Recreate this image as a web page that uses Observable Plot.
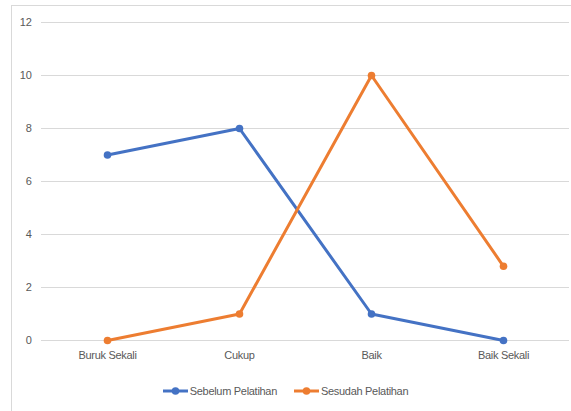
<!DOCTYPE html>
<html>
<head>
<meta charset="utf-8">
<script src="https://cdn.jsdelivr.net/npm/d3@7"></script>
<script src="https://cdn.jsdelivr.net/npm/@observablehq/plot@0.6"></script>
<style>
  html, body { margin: 0; padding: 0; background: #fff; width: 571px; height: 411px; overflow: hidden; }
  #frame { position: absolute; left: 11px; top: 5px; width: 580px; height: 420px; border: 1px solid #d9d9d9; box-sizing: border-box; }
  #chart { position: absolute; left: 0; top: 0; }
  #legend { position: absolute; left: 0; top: 385px; width: 571px; display: flex; justify-content: center; gap: 17px;
            font-family: "Liberation Sans", Arial, sans-serif; font-size: 11px; letter-spacing: -0.3px; color: #595959; }
  .item { display: flex; align-items: center; gap: 2px; }
  .item svg { display: block; }
</style>
</head>
<body>
<div id="frame"></div>
<div id="chart"></div>
<div id="legend"></div>
<script>
const categories = ["Buruk Sekali", "Cukup", "Baik", "Baik Sekali"];
const seriesNames = ["Sebelum Pelatihan", "Sesudah Pelatihan"];
const sebelum = [7, 8, 1, 0];
const sesudah = [0, 1, 10, 2.8];
const yTicks = [0, 2, 4, 6, 8, 10, 12];
const colors = ["#4472C4", "#ED7D31"];

const data = [];
categories.forEach((c, i) => {
  data.push({cat: c, value: sebelum[i], series: seriesNames[0]});
  data.push({cat: c, value: sesudah[i], series: seriesNames[1]});
});

const font = `"Liberation Sans", Arial, sans-serif`;

const chart = Plot.plot({
  width: 571,
  height: 368,
  marginLeft: 41,
  marginRight: 2,
  marginTop: 22,
  marginBottom: 28,
  style: {fontFamily: font, fontSize: "11px", color: "#595959", background: "transparent", letterSpacing: "-0.3px"},
  x: {type: "point", domain: categories, padding: 0.5, label: null},
  y: {domain: [0, 12], label: null},
  color: {domain: seriesNames, range: colors},
  marks: [
    Plot.ruleY(yTicks, {stroke: "#d9d9d9", strokeWidth: 1.2}),
    Plot.axisY(yTicks, {tickSize: 0, tickPadding: 10, label: null, fontSize: 11}),
    Plot.axisX({tickSize: 0, tickPadding: 11, label: null, fontSize: 11}),
    Plot.line(data, {x: "cat", y: "value", z: "series", stroke: "series", strokeWidth: 3, strokeLinejoin: "round"}),
    Plot.dot(data, {x: "cat", y: "value", fill: "series", r: 3.8})
  ]
});
document.getElementById("chart").appendChild(chart);

const legend = document.getElementById("legend");
seriesNames.forEach((name, i) => {
  const item = document.createElement("div");
  item.className = "item";
  item.innerHTML = `<svg width="25" height="10"><line x1="0" y1="5" x2="25" y2="5" stroke="${colors[i]}" stroke-width="3"/><circle cx="12.5" cy="5" r="3.8" fill="${colors[i]}"/></svg><span>${name}</span>`;
  legend.appendChild(item);
});
</script>
</body>
</html>
